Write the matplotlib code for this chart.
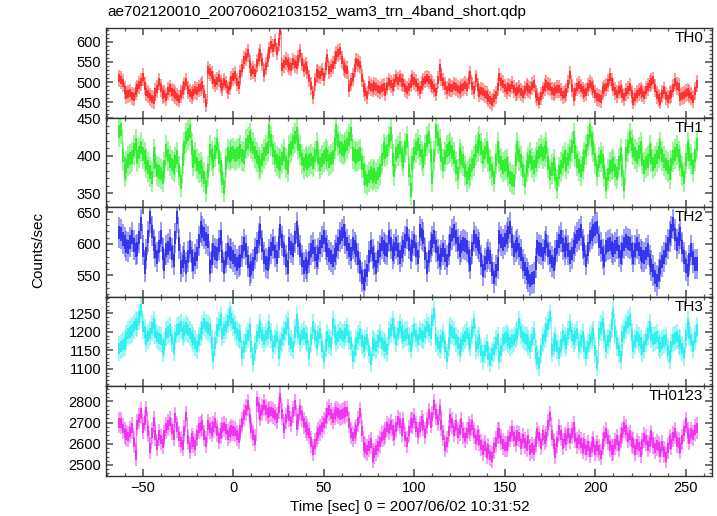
import numpy as np
import matplotlib
matplotlib.use('Agg')
import matplotlib.pyplot as plt
from matplotlib.ticker import MultipleLocator

plt.rcParams['font.family'] = ['Liberation Sans', 'DejaVu Sans']

# 1 s bins, centre times
time = np.arange(-63, 257)

th0 = [509, 505, 497, 480, 467, 470, 472, 466, 463, 478,
       484, 492, 500, 513, 490, 476, 470, 463, 458, 455,
       476, 482, 501, 485, 467, 470, 463, 478, 484, 475,
       472, 467, 462, 459, 470, 480, 490, 501, 481, 472,
       467, 474, 480, 478, 484, 488, 492, 470, 447, 530,
       524, 517, 505, 497, 503, 509, 495, 488, 501, 494,
       480, 490, 505, 512, 517, 500, 492, 520, 534, 555,
       562, 572, 545, 526, 530, 522, 548, 563, 572, 550,
       522, 540, 559, 578, 593, 585, 597, 576, 600, 626,
       538, 545, 552, 547, 540, 538, 551, 545, 542, 558,
       572, 550, 534, 540, 530, 509, 490, 468, 500, 522,
       520, 518, 525, 513, 540, 559, 530, 535, 543, 555,
       568, 572, 576, 555, 538, 532, 530, 484, 500, 513,
       535, 551, 548, 543, 510, 484, 476, 468, 493, 488,
       484, 490, 488, 482, 480, 486, 488, 476, 490, 501,
       495, 488, 498, 509, 503, 509, 500, 497, 485, 480,
       488, 496, 509, 502, 497, 488, 480, 492, 501, 506,
       509, 505, 498, 493, 485, 476, 505, 534, 512, 501,
       490, 480, 488, 486, 484, 490, 488, 482, 480, 486,
       488, 492, 488, 505, 518, 490, 480, 509, 488, 472,
       478, 476, 470, 468, 460, 455, 451, 460, 468, 487,
       512, 500, 495, 485, 479, 488, 485, 492, 482, 475,
       478, 483, 476, 470, 480, 487, 482, 480, 490, 496,
       470, 462, 454, 466, 479, 488, 496, 490, 487, 478,
       475, 479, 482, 483, 475, 467, 470, 475, 495, 517,
       485, 462, 475, 487, 492, 486, 479, 472, 475, 488,
       496, 490, 483, 470, 462, 460, 458, 479, 484, 487,
       498, 512, 500, 487, 478, 471, 480, 483, 470, 462,
       475, 480, 487, 470, 454, 462, 471, 475, 479, 472,
       467, 480, 487, 496, 500, 504, 485, 467, 460, 454,
       470, 479, 465, 458, 468, 471, 485, 500, 490, 487,
       462, 465, 467, 472, 475, 471, 465, 458, 478, 496]

th1 = [432, 435, 400, 378, 386, 393, 396, 398, 408, 415,
       398, 404, 411, 402, 398, 390, 385, 378, 371, 402,
       392, 380, 378, 376, 371, 385, 407, 400, 393, 388,
       385, 392, 398, 380, 365, 395, 411, 424, 428, 433,
       410, 393, 398, 389, 384, 385, 378, 371, 358, 380,
       407, 400, 393, 405, 415, 398, 385, 370, 358, 390,
       402, 399, 402, 404, 400, 402, 404, 407, 400, 398,
       415, 418, 424, 415, 411, 404, 398, 392, 387, 395,
       402, 408, 411, 433, 420, 407, 398, 393, 390, 389,
       396, 402, 390, 385, 407, 410, 418, 424, 429, 415,
       407, 395, 389, 393, 390, 393, 395, 391, 400, 411,
       398, 389, 394, 398, 402, 400, 393, 396, 398, 415,
       433, 420, 411, 409, 407, 412, 415, 422, 429, 402,
       400, 398, 400, 402, 390, 380, 370, 367, 372, 376,
       373, 375, 371, 376, 380, 395, 409, 405, 407, 420,
       429, 395, 380, 402, 406, 411, 400, 393, 410, 420,
       380, 354, 390, 402, 410, 415, 407, 400, 393, 408,
       420, 424, 400, 371, 400, 433, 422, 415, 400, 389,
       398, 407, 409, 411, 405, 398, 385, 376, 402, 397,
       393, 380, 371, 376, 380, 388, 393, 407, 412, 420,
       410, 398, 404, 411, 398, 389, 380, 371, 395, 411,
       398, 390, 385, 387, 389, 380, 371, 369, 367, 395,
       411, 400, 393, 380, 367, 385, 392, 398, 390, 385,
       392, 398, 404, 407, 402, 405, 411, 390, 376, 382,
       389, 375, 362, 378, 385, 393, 398, 389, 395, 402,
       412, 424, 405, 393, 386, 380, 389, 398, 407, 420,
       433, 420, 411, 395, 380, 392, 398, 393, 378, 362,
       375, 385, 387, 389, 380, 376, 390, 402, 380, 362,
       402, 412, 424, 415, 407, 402, 398, 405, 411, 395,
       385, 390, 393, 407, 398, 389, 393, 398, 404, 411,
       400, 393, 388, 385, 376, 388, 398, 402, 407, 400,
       393, 380, 371, 395, 411, 402, 395, 385, 400, 415]

th2 = [618, 616, 608, 603, 597, 595, 603, 611, 598, 590,
       592, 610, 632, 590, 563, 584, 612, 642, 620, 600,
       588, 579, 596, 611, 585, 568, 590, 594, 600, 586,
       574, 610, 642, 600, 563, 572, 579, 563, 580, 595,
       580, 568, 576, 584, 605, 626, 620, 616, 608, 605,
       563, 578, 590, 586, 584, 598, 611, 580, 563, 578,
       590, 586, 584, 579, 574, 568, 572, 574, 588, 600,
       590, 572, 558, 562, 568, 585, 595, 610, 621, 598,
       579, 570, 568, 584, 592, 600, 588, 579, 602, 621,
       605, 590, 574, 563, 600, 594, 590, 610, 626, 606,
       590, 575, 563, 568, 563, 578, 590, 595, 584, 574,
       585, 595, 604, 611, 598, 590, 582, 579, 574, 582,
       590, 600, 611, 616, 621, 608, 600, 590, 584, 600,
       595, 590, 578, 563, 548, 537, 550, 558, 580, 595,
       584, 575, 563, 580, 590, 600, 595, 592, 590, 611,
       600, 584, 592, 600, 590, 579, 588, 595, 605, 616,
       600, 584, 596, 605, 590, 579, 621, 615, 611, 585,
       563, 580, 595, 605, 611, 596, 584, 574, 582, 590,
       582, 574, 590, 605, 615, 621, 611, 600, 590, 596,
       600, 598, 595, 580, 568, 592, 611, 605, 600, 595,
       575, 558, 570, 579, 584, 579, 560, 547, 558, 568,
       611, 605, 600, 606, 611, 618, 626, 605, 590, 596,
       600, 590, 584, 568, 560, 553, 548, 542, 545, 547,
       570, 595, 592, 590, 584, 596, 605, 590, 579, 572,
       568, 582, 595, 605, 611, 598, 590, 600, 590, 579,
       585, 595, 605, 611, 615, 621, 600, 590, 574, 592,
       611, 616, 621, 624, 626, 605, 595, 584, 574, 595,
       598, 600, 594, 590, 595, 600, 588, 579, 590, 600,
       605, 602, 600, 590, 579, 590, 600, 592, 584, 580,
       579, 585, 590, 574, 566, 558, 548, 542, 552, 563,
       572, 579, 590, 600, 612, 621, 632, 615, 600, 608,
       616, 595, 579, 565, 558, 575, 590, 578, 568, 568]

th3 = [1155, 1161, 1166, 1170, 1185, 1196, 1200, 1205, 1215, 1223,
       1219, 1240, 1259, 1214, 1200, 1179, 1188, 1196, 1210, 1223,
       1200, 1187, 1182, 1179, 1152, 1165, 1196, 1200, 1205, 1180,
       1156, 1185, 1205, 1208, 1214, 1196, 1203, 1210, 1205, 1196,
       1188, 1179, 1170, 1161, 1180, 1196, 1210, 1223, 1214, 1210,
       1205, 1170, 1134, 1170, 1205, 1220, 1232, 1196, 1205, 1214,
       1230, 1250, 1236, 1223, 1210, 1196, 1190, 1187, 1143, 1160,
       1179, 1190, 1205, 1160, 1125, 1155, 1187, 1200, 1214, 1190,
       1179, 1190, 1196, 1214, 1190, 1161, 1175, 1187, 1143, 1165,
       1180, 1196, 1210, 1223, 1179, 1170, 1161, 1200, 1232, 1200,
       1179, 1190, 1196, 1185, 1179, 1143, 1180, 1214, 1190, 1170,
       1185, 1196, 1160, 1134, 1165, 1187, 1175, 1170, 1223, 1200,
       1179, 1188, 1196, 1190, 1187, 1196, 1205, 1185, 1170, 1134,
       1150, 1170, 1185, 1196, 1175, 1161, 1170, 1179, 1150, 1125,
       1170, 1165, 1161, 1175, 1187, 1170, 1165, 1160, 1152, 1196,
       1205, 1223, 1200, 1179, 1195, 1214, 1200, 1187, 1192, 1196,
       1180, 1161, 1185, 1205, 1190, 1179, 1196, 1190, 1187, 1200,
       1214, 1205, 1196, 1230, 1250, 1179, 1170, 1161, 1175, 1187,
       1160, 1134, 1170, 1205, 1200, 1196, 1180, 1170, 1152, 1165,
       1179, 1188, 1196, 1180, 1170, 1200, 1223, 1161, 1170, 1179,
       1150, 1134, 1150, 1161, 1140, 1125, 1140, 1152, 1170, 1179,
       1134, 1150, 1179, 1183, 1187, 1178, 1170, 1175, 1179, 1190,
       1196, 1223, 1200, 1187, 1182, 1179, 1170, 1161, 1180, 1196,
       1143, 1130, 1116, 1150, 1179, 1190, 1205, 1220, 1241, 1152,
       1165, 1179, 1160, 1143, 1165, 1187, 1178, 1170, 1195, 1214,
       1190, 1179, 1188, 1196, 1161, 1175, 1187, 1160, 1143, 1160,
       1179, 1188, 1196, 1150, 1116, 1196, 1210, 1223, 1190, 1161,
       1175, 1187, 1220, 1250, 1200, 1170, 1150, 1134, 1187, 1200,
       1214, 1225, 1232, 1190, 1161, 1175, 1187, 1178, 1170, 1152,
       1160, 1179, 1195, 1214, 1190, 1179, 1183, 1187, 1170, 1161,
       1170, 1175, 1179, 1150, 1134, 1160, 1179, 1183, 1187, 1175,
       1170, 1155, 1143, 1190, 1223, 1195, 1179, 1161, 1185, 1205]

th0123 = [2700, 2697, 2672, 2650, 2640, 2634, 2655, 2674, 2610, 2547,
          2690, 2720, 2745, 2674, 2710, 2753, 2660, 2580, 2650, 2705,
          2640, 2595, 2642, 2620, 2602, 2640, 2674, 2690, 2705, 2670,
          2642, 2721, 2680, 2634, 2610, 2595, 2660, 2729, 2620, 2580,
          2626, 2610, 2595, 2640, 2674, 2682, 2690, 2640, 2610, 2690,
          2675, 2658, 2680, 2697, 2660, 2626, 2650, 2674, 2682, 2670,
          2642, 2655, 2666, 2662, 2658, 2640, 2626, 2666, 2700, 2737,
          2760, 2784, 2720, 2674, 2640, 2618, 2800, 2770, 2737, 2760,
          2784, 2760, 2745, 2750, 2753, 2745, 2737, 2721, 2770, 2816,
          2740, 2674, 2720, 2760, 2730, 2705, 2750, 2784, 2690, 2720,
          2760, 2730, 2697, 2680, 2665, 2650, 2610, 2571, 2600, 2634,
          2650, 2666, 2680, 2697, 2720, 2745, 2760, 2740, 2721, 2740,
          2753, 2745, 2737, 2740, 2745, 2750, 2753, 2700, 2650, 2634,
          2650, 2666, 2705, 2745, 2660, 2587, 2580, 2571, 2590, 2603,
          2539, 2555, 2571, 2590, 2610, 2634, 2640, 2650, 2681, 2670,
          2690, 2666, 2640, 2680, 2710, 2697, 2660, 2700, 2634, 2610,
          2660, 2700, 2697, 2720, 2681, 2650, 2681, 2710, 2690, 2650,
          2697, 2740, 2700, 2729, 2785, 2740, 2713, 2760, 2690, 2640,
          2587, 2610, 2660, 2720, 2697, 2660, 2690, 2650, 2666, 2700,
          2650, 2630, 2650, 2680, 2666, 2690, 2650, 2620, 2640, 2618,
          2595, 2570, 2590, 2555, 2575, 2545, 2539, 2580, 2610, 2650,
          2650, 2620, 2600, 2587, 2587, 2615, 2634, 2660, 2634, 2612,
          2640, 2634, 2600, 2625, 2603, 2590, 2620, 2571, 2580, 2571,
          2610, 2650, 2634, 2600, 2640, 2620, 2634, 2690, 2729, 2640,
          2600, 2555, 2610, 2666, 2640, 2600, 2630, 2618, 2650, 2625,
          2650, 2680, 2630, 2603, 2620, 2603, 2580, 2600, 2571, 2590,
          2560, 2587, 2610, 2570, 2590, 2571, 2550, 2600, 2634, 2650,
          2620, 2590, 2571, 2571, 2600, 2618, 2590, 2630, 2650, 2680,
          2666, 2630, 2640, 2610, 2603, 2570, 2600, 2587, 2560, 2600,
          2630, 2618, 2590, 2610, 2640, 2603, 2580, 2595, 2587, 2560,
          2590, 2560, 2539, 2580, 2620, 2600, 2634, 2650, 2610, 2603,
          2580, 2620, 2660, 2700, 2650, 2620, 2650, 2640, 2666, 2674]

names = ['TH0', 'TH1', 'TH2', 'TH3', 'TH0123']
series = [th0, th1, th2, th3, th0123]
errs = [22, 20, 24, 34, 51]   # typical 1-sigma half length
colors = ['#ff2a2a', '#2aee2a', '#2e2eee', '#2aeeee', '#f02ef0']
ylims = [(411, 633.5), (331, 450.5), (516, 658), (1053, 1294), (2448, 2871)]
ymajor = [50, 50, 50, 50, 100]
yminor = [10, 10, 10, 10, 20]

fig = plt.figure(figsize=(7.17, 5.16), dpi=100)
top, bot = 1 - 28.3 / 516, 1 - 476 / 516
left, right = 106 / 717, 711.7 / 717
h = (top - bot) / 5

axes = []
for i in range(5):
    ax = fig.add_axes([left, top - (i + 1) * h, right - left, h])
    axes.append(ax)
    y = np.array(series[i])
    # full error bar, lighter, then a solid core around the value
    ax.errorbar(time, y, yerr=errs[i], fmt='none', ecolor=colors[i],
                elinewidth=1.1, alpha=0.6, capsize=0)
    ax.errorbar(time, y, yerr=errs[i] * 0.45, fmt='none', ecolor=colors[i],
                elinewidth=1.3, capsize=0)
    ax.step(time, y, where='mid', color=colors[i], lw=0.5, alpha=0.8)
    ax.set_xlim(-70.3, 264.3)
    ax.set_ylim(*ylims[i])
    ax.xaxis.set_major_locator(MultipleLocator(50))
    ax.xaxis.set_minor_locator(MultipleLocator(10))
    ax.yaxis.set_major_locator(MultipleLocator(ymajor[i]))
    ax.yaxis.set_minor_locator(MultipleLocator(yminor[i]))
    ax.tick_params(which='both', direction='in', top=True, right=True,
                   color='0.35', labelsize=10.5)
    ax.tick_params(which='major', length=5, width=1.2)
    ax.tick_params(which='minor', length=2.5, width=0.9)
    for sp in ax.spines.values():
        sp.set_color('0.2')
        sp.set_linewidth(1.0)
    if i < 4:
        ax.tick_params(labelbottom=False)
    ax.text(0.986, 0.97, names[i], transform=ax.transAxes, ha='right',
            va='top', fontsize=11)

fig.text(left + 0.002, 1 - 12 / 516, 'ae702120010_20070602103152_wam3_trn_4band_short.qdp',
         ha='left', va='center', fontsize=11)
fig.text(38 / 717, 1 - 250 / 516, 'Counts/sec', rotation=90, ha='center',
         va='center', fontsize=11)
fig.text(410 / 717, 1 - 507 / 516, 'Time [sec] 0 = 2007/06/02 10:31:52',
         ha='center', va='center', fontsize=11)

fig.savefig('out.png', dpi=100)
